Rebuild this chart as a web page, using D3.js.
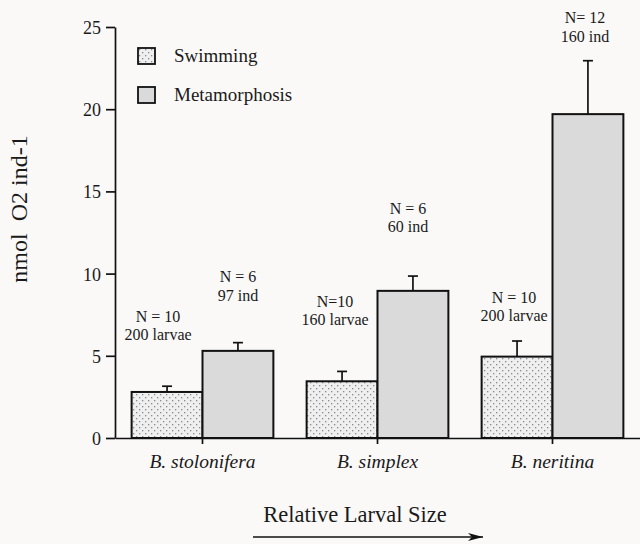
<!DOCTYPE html>
<html>
<head>
<meta charset="utf-8">
<script src="https://cdn.jsdelivr.net/npm/d3@7/dist/d3.min.js"></script>
<style>
  html, body { margin: 0; padding: 0; background: #faf9f8; }
  svg { display: block; }
  svg text { font-family: "Liberation Serif", "Times New Roman", Times, "DejaVu Serif", serif !important; fill: #1a1a1a; white-space: pre; }
</style>
</head>
<body>
<svg id="chart" width="640" height="544"></svg>
<script>
// ---- data ----
const categories = ["B. stolonifera", "B. simplex", "B. neritina"];
const seriesNames = ["Swimming", "Metamorphosis"];
const swimming = [2.8, 3.45, 4.95];
const swimmingErr = [0.35, 0.6, 0.95];
const metamorphosis = [5.3, 8.95, 19.7];
const metamorphosisErr = [0.5, 0.9, 3.25];
const swimmingNotes = [["N = 10", "200 larvae"], ["N=10", "160 larvae"], ["N = 10", "200 larvae"]];
const metamorphosisNotes = [["N = 6", "97 ind"], ["N = 6", "60 ind"], ["N= 12", "160 ind"]];
const yTicks = [0, 5, 10, 15, 20, 25];
const yLabel = "nmol  O2 ind-1";
const xLabel = "Relative Larval Size";

// ---- layout ----
const svg = d3.select("#chart");
const plotLeft = 115, plotRight = 640, plotTop = 27, plotBottom = 438;

const y = d3.scaleLinear().domain([0, 25]).range([plotBottom, plotTop]);
const x0 = d3.scaleBand().domain(categories).range([plotLeft, plotRight])
  .paddingInner(0.19).paddingOuter(0.095);
const x1 = d3.scaleBand().domain(seriesNames).range([0, x0.bandwidth()]);

// patterns
const defs = svg.append("defs");
const pat = defs.append("pattern").attr("id", "dots").attr("patternUnits", "userSpaceOnUse")
  .attr("width", 6).attr("height", 6);
pat.append("rect").attr("width", 6).attr("height", 6).attr("fill", "#efefef");
pat.append("rect").attr("x", 1).attr("y", 1).attr("width", 1.3).attr("height", 1.3).attr("fill", "#8a8a8a");
pat.append("rect").attr("x", 4).attr("y", 4).attr("width", 1.3).attr("height", 1.3).attr("fill", "#8a8a8a");

const fills = { "Swimming": "url(#dots)", "Metamorphosis": "#dadada" };

const rows = [];
categories.forEach((c, i) => {
  rows.push({ cat: c, s: "Swimming", v: swimming[i], e: swimmingErr[i], note: swimmingNotes[i], i });
  rows.push({ cat: c, s: "Metamorphosis", v: metamorphosis[i], e: metamorphosisErr[i], note: metamorphosisNotes[i], i });
});

// note placement (pixel offsets of the two-line notes relative to bar centre / error tip)
const noteLayout = {
  "Swimming": [{ dx: -9, gap: 46 }, { dx: -7, gap: 46 }, { dx: -3, gap: 20 }],
  "Metamorphosis": [{ dx: 0, gap: 42 }, { dx: -5, gap: 44 }, { dx: -3, gap: 19 }]
};

// bars
svg.append("g").selectAll("rect").data(rows).join("rect")
  .attr("x", d => x0(d.cat) + x1(d.s))
  .attr("y", d => y(d.v))
  .attr("width", x1.bandwidth())
  .attr("height", d => y(0) - y(d.v))
  .attr("fill", d => fills[d.s])
  .attr("stroke", "#111").attr("stroke-width", 2);

// error bars
const eg = svg.append("g").attr("stroke", "#111").attr("stroke-width", 1.7);
rows.forEach(d => {
  const cx = x0(d.cat) + x1(d.s) + x1.bandwidth() / 2;
  eg.append("line").attr("x1", cx).attr("x2", cx).attr("y1", y(d.v)).attr("y2", y(d.v + d.e));
  eg.append("line").attr("x1", cx - 5).attr("x2", cx + 5).attr("y1", y(d.v + d.e)).attr("y2", y(d.v + d.e));
});

// notes
rows.forEach(d => {
  const L = noteLayout[d.s][d.i];
  const cx = x0(d.cat) + x1(d.s) + x1.bandwidth() / 2 + L.dx;
  const by = y(d.v + d.e) - L.gap;
  const t = svg.append("text").attr("text-anchor", "middle").attr("font-size", 16);
  t.append("tspan").attr("x", cx).attr("y", by - 18.5).text(d.note[0]);
  t.append("tspan").attr("x", cx).attr("y", by).text(d.note[1]);
});

// y axis
const yAxis = svg.append("g").attr("transform", `translate(${plotLeft},0)`)
  .call(d3.axisLeft(y).tickValues(yTicks).tickSize(9).tickSizeOuter(0).tickPadding(5));
yAxis.attr("font-family", null);
yAxis.selectAll("text").attr("font-size", 18).attr("dy", "0.36em");
yAxis.selectAll("line, path").attr("stroke", "#111").attr("stroke-width", 1.7);

// x axis
const xAxis = svg.append("g").attr("transform", `translate(0,${plotBottom})`)
  .call(d3.axisBottom(x0).tickSize(6).tickSizeOuter(0).tickPadding(10));
xAxis.attr("font-family", null);
xAxis.selectAll("text").attr("font-size", 19.5).attr("font-style", "italic");
xAxis.selectAll("line, path").attr("stroke", "#111").attr("stroke-width", 1.7);

// y label
svg.append("text").attr("transform", "translate(27,209) rotate(-90)")
  .attr("text-anchor", "middle").attr("font-size", 24).text(yLabel);

// x label + arrow
svg.append("text").attr("x", 355).attr("y", 522).attr("text-anchor", "middle")
  .attr("font-size", 22.5).text(xLabel);
defs.append("marker").attr("id", "arrow").attr("viewBox", "0 0 16 10")
  .attr("refX", 15).attr("refY", 5).attr("markerWidth", 16).attr("markerHeight", 10)
  .attr("markerUnits", "userSpaceOnUse").attr("orient", "auto")
  .append("path").attr("d", "M0,1 L15,5 L0,9 L4,5 Z").attr("fill", "#111");
svg.append("line").attr("x1", 253).attr("x2", 483).attr("y1", 537).attr("y2", 537)
  .attr("stroke", "#111").attr("stroke-width", 1.6).attr("marker-end", "url(#arrow)");

// legend
const lg = svg.append("g");
seriesNames.forEach((s, i) => {
  const yy = 48 + i * 39;
  lg.append("rect").attr("x", 138).attr("y", yy).attr("width", 17).attr("height", 16)
    .attr("fill", fills[s]).attr("stroke", "#111").attr("stroke-width", 1.8);
  lg.append("text").attr("x", 174).attr("y", yy + 14).attr("font-size", 19).text(s);
});
</script>
</body>
</html>
